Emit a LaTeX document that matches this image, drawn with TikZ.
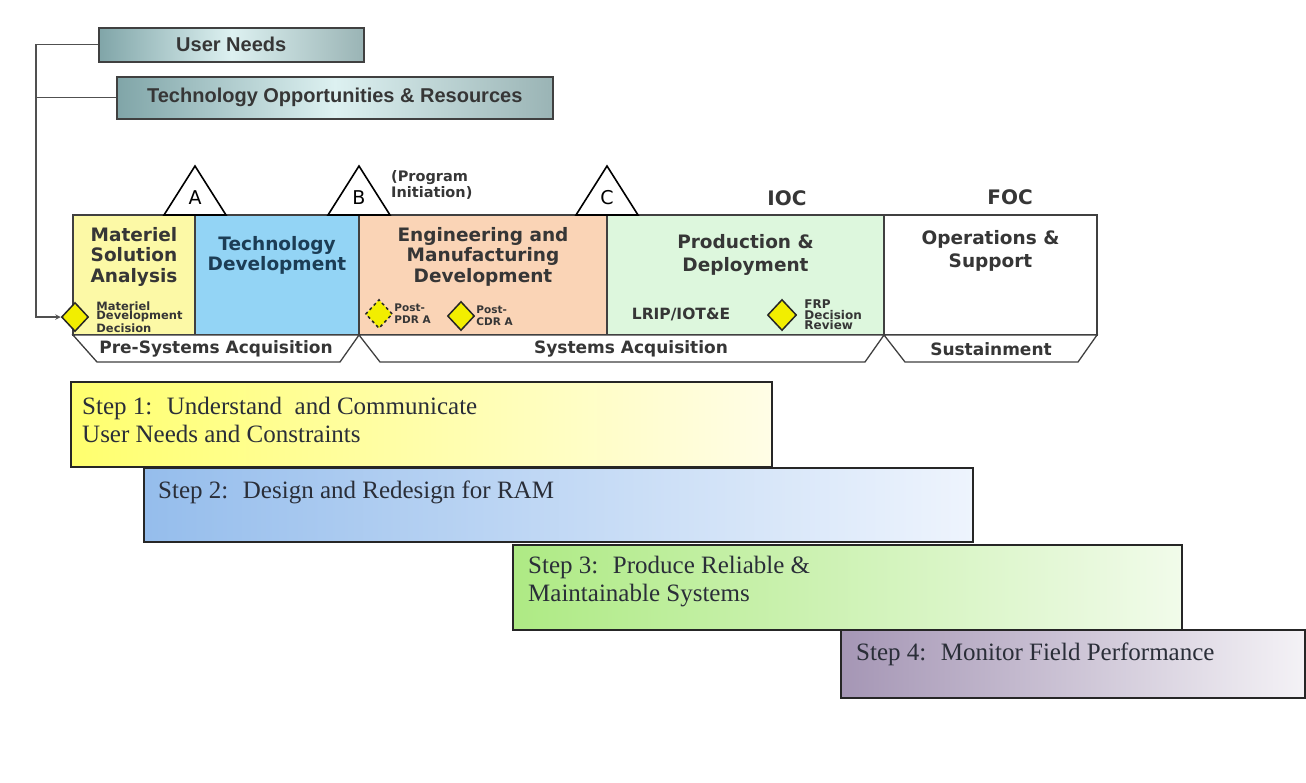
\documentclass[tikz,border=0pt]{standalone}
\usepackage{fontspec}
\setmainfont{DejaVu Sans}
\newfontfamily\arialfont{Liberation Sans}
\newfontfamily\timesfont{Liberation Serif}
\usepackage{xcolor}
\usepackage{tikz}
\usetikzlibrary{shapes.geometric, arrows}
\usetikzlibrary{positioning}

\definecolor{msafill}{HTML}{FCF9A6}
\definecolor{tdfill}{HTML}{93D4F5}
\definecolor{emdfill}{HTML}{FAD4B6}
\definecolor{pdfill}{HTML}{DDF7DD}
\definecolor{inkgray}{HTML}{363636}
\definecolor{tdink}{HTML}{1C3D55}
\definecolor{stepink}{HTML}{2A2E38}
\definecolor{tealdark}{HTML}{80A5A8}
\definecolor{teallight}{HTML}{DDF1F1}
\definecolor{tealgray}{HTML}{9AB4B5}
\definecolor{feedgray}{HTML}{505050}
\definecolor{mdyellow}{HTML}{F2EE00}
\definecolor{sa}{HTML}{FFFF6E}\definecolor{sb}{HTML}{FFFDE6}
\definecolor{sc}{HTML}{95BDEC}\definecolor{sd}{HTML}{EEF4FD}
\definecolor{se}{HTML}{AEEA84}\definecolor{sf}{HTML}{F1FBEA}
\definecolor{sg}{HTML}{A596B5}\definecolor{sh}{HTML}{F4F2F6}

\tikzstyle{arrow} = [thick,->,>=stealth]
\tikzstyle{needbox} = [draw=black!75, line width=1.5pt, left color=tealdark, right color=tealgray, middle color=teallight, anchor=north west, inner sep=0pt, text=inkgray, font=\arialfont\bfseries\fontsize{20}{22}\selectfont]
\tikzstyle{phase} = [draw=black!75, line width=1.3pt, anchor=north west, minimum height=120pt, inner sep=0pt, outer sep=0pt]
\tikzstyle{phasetitle} = [align=center, inner sep=0pt, text=inkgray, font=\bfseries\fontsize{18.5}{20.5}\selectfont]
\tikzstyle{band} = [draw=black!75, line width=1.3pt, fill=white]
\tikzstyle{bandtext} = [inner sep=0pt, text=inkgray, font=\bfseries\fontsize{17}{19}\selectfont]
\tikzstyle{milestone} = [draw=black, line width=1.6pt, fill=white]
\tikzstyle{mslabel} = [inner sep=0pt, font=\fontsize{19}{21}\selectfont]
\tikzstyle{decision} = [diamond, draw=black!85, line width=1.5pt, fill=mdyellow, minimum width=27pt, minimum height=29pt, inner sep=0pt]
\tikzstyle{smalltext} = [align=left, inner sep=0pt, text=inkgray, font=\bfseries\fontsize{11.5}{9.5}\selectfont]
\tikzstyle{stepbox} = [draw=black!85, line width=1.6pt, anchor=north west, inner sep=0pt]
\tikzstyle{steptext} = [anchor=north west, align=left, inner sep=0pt, text=stepink, font=\timesfont\fontsize{25}{28}\selectfont]

\begin{document}
\begin{tikzpicture}[x=1pt, y=-1pt]
        \useasboundingbox (0,0) rectangle (1306,782);

        % Inputs
        \node[needbox, minimum width=265pt, minimum height=34pt] (usr) at (98,27) {User Needs};
        \node[needbox, minimum width=436pt, minimum height=42pt] (tor) at (116,76) {Technology Opportunities \& Resources};

        % Phase blocks
        \node[phase, fill=msafill, minimum width=122pt] (msa) at (73,215) {};
        \node[phase, fill=tdfill, minimum width=164pt] (td) at (msa.north east) {};
        \node[phase, fill=emdfill, minimum width=248pt] (emd) at (td.north east) {};
        \node[phase, fill=pdfill, minimum width=277pt] (pd) at (emd.north east) {};
        \node[phase, fill=white, minimum width=213pt] (os) at (pd.north east) {};

        \node[phasetitle] (msaT) at (msa.north) [below=12pt] {Materiel\\Solution\\Analysis};
        \node[phasetitle, text=tdink] (tdT) at (td.north) [below=21pt] {Technology\\Development};
        \node[phasetitle] (emdT) at (emd.north) [below=12pt] {Engineering and\\Manufacturing\\Development};
        \node[phasetitle] (pdT) at (pd.north) [below=19pt] {Production \&\\[3pt]Deployment};
        \node[phasetitle] (osT) at (os.north) [below=15pt] {Operations \&\\[3pt]Support};

        % Acquisition bands
        \draw[band] (msa.south west) -- ++(24,27) -- ([xshift=-19pt,yshift=-27pt]td.south east) -- (td.south east) -- cycle;
        \draw[band] (emd.south west) -- ++(21,27) -- ([xshift=-19pt,yshift=-27pt]pd.south east) -- (pd.south east) -- cycle;
        \draw[band] (os.south west) -- ++(21,27) -- ([xshift=-19pt,yshift=-27pt]os.south east) -- (os.south east) -- cycle;
        \node[bandtext] (preSA) at (216,349) {Pre-Systems Acquisition};
        \node[bandtext] (sysA) at (631,349) {Systems Acquisition};
        \node[bandtext] (sust) at (991,349) {Sustainment};

        % Milestones
        \draw[milestone] (msa.north east) ++(-31,0) -- ++(31,-49) -- ++(31,49) -- cycle;
        \draw[milestone] (td.north east) ++(-31,0) -- ++(31,-49) -- ++(31,49) -- cycle;
        \draw[milestone] (emd.north east) ++(-31,0) -- ++(31,-49) -- ++(31,49) -- cycle;
        \node[mslabel] (msA) at ([yshift=17pt]msa.north east) {A};
        \node[mslabel] (msB) at ([yshift=17pt]td.north east) {B};
        \node[mslabel] (msC) at ([yshift=17pt]emd.north east) {C};
        \node[align=left, anchor=west, inner sep=0pt, text=inkgray, font=\bfseries\fontsize{14.5}{16}\selectfont] (progInit) at ([xshift=32pt,yshift=30pt]td.north east) {(Program\\Initiation)};
        \node[phasetitle, font=\bfseries\fontsize{20}{22}\selectfont] (ioc) at (787,198) {IOC};
        \node[phasetitle, font=\bfseries\fontsize{20}{22}\selectfont] (foc) at (1010,197) {FOC};

        % Decision points
        \node[decision] (mdd) at (75,317) {};
        \node[smalltext, right=7pt of mdd] (mddT) {Materiel\\Development\\Decision};
        \node[decision, dashed] (pdr) at (379,314) {};
        \node[smalltext, font=\bfseries\fontsize{10.5}{12}\selectfont, right=1pt of pdr] (pdrT) {Post-\\PDR A};
        \node[decision] (cdr) at (461,316) {};
        \node[smalltext, font=\bfseries\fontsize{10.5}{12}\selectfont, right=1pt of cdr] (cdrT) {Post-\\CDR A};
        \node[inner sep=0pt, text=inkgray, font=\bfseries\fontsize{15.5}{17}\selectfont] (lrip) at (681,314) {LRIP/IOT\&E};
        \node[decision, minimum width=29pt, minimum height=31pt] (frp) at (782,315) {};
        \node[smalltext, font=\bfseries\fontsize{12}{10.5}\selectfont, right=7pt of frp] (frpT) {FRP\\Decision\\Review};

        % Feed into the materiel development decision
        \draw[arrow, draw=feedgray, line width=1.4pt] (usr.west) -- ++(-62,0) |- (mdd.west);
        \draw[draw=feedgray, line width=1.4pt] (tor.west) -- ++(-80,0);

        % Steps
        \node[stepbox, left color=sa, right color=sb, minimum width=701pt, minimum height=85pt] (step1) at (70,381) {};
        \node[stepbox, left color=sc, right color=sd, minimum width=829pt, minimum height=74pt] (step2) at (143,467) {};
        \node[stepbox, left color=se, right color=sf, minimum width=669pt, minimum height=85pt] (step3) at (512,544) {};
        \node[stepbox, left color=sg, right color=sh, minimum width=464pt, minimum height=68pt] (step4) at (840,629) {};
        \node[steptext] (step1T) at ([xshift=12pt,yshift=-16pt]step1.north west) {Step 1:~ Understand~ and Communicate\\User Needs and Constraints};
        \node[steptext] (step2T) at ([xshift=15pt,yshift=-14pt]step2.north west) {Step 2:~ Design and Redesign for RAM};
        \node[steptext] (step3T) at ([xshift=16pt,yshift=-12pt]step3.north west) {Step 3:~ Produce Reliable \&\\Maintainable Systems};
        \node[steptext] (step4T) at ([xshift=16pt,yshift=-14pt]step4.north west) {Step 4:~ Monitor Field Performance};
\end{tikzpicture}
\end{document}
